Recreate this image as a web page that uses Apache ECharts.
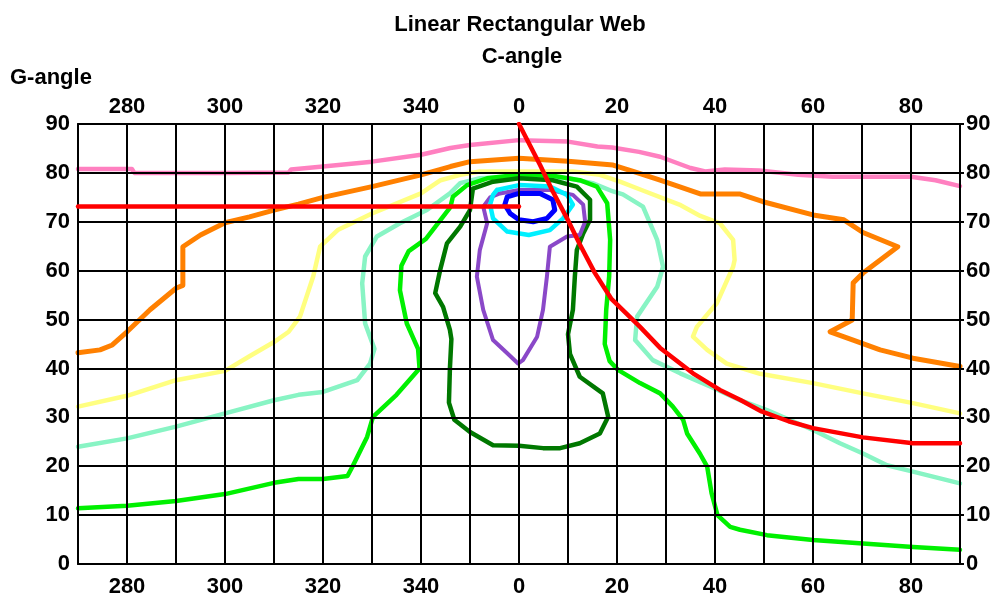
<!DOCTYPE html>
<html>
<head>
<meta charset="utf-8">
<script src="https://cdn.jsdelivr.net/npm/echarts@6/dist/echarts.min.js"></script>
<style>
  html, body { margin: 0; padding: 0; background: #ffffff; }
  #chart { width: 1000px; height: 600px; }
</style>
</head>
<body>
<div id="chart"></div>
<script>
// C-angle runs 270..360..90; stored here as signed degrees (-90 .. 90), 0 = 360.
// Each contour is a list of [C-angle, G-angle] points.
const cAngleTickLabels = [280, 300, 320, 340, 0, 20, 40, 60, 80];
const gAngleTickLabels = [0, 10, 20, 30, 40, 50, 60, 70, 80, 90];

const pinkContour = [
  [-90, 80.8], [-79, 80.8], [-78.5, 80.0], [-60, 80.0], [-47, 80.1], [-46.5, 80.7],
  [-40, 81.3], [-30, 82.3], [-20, 83.7], [-14, 85.1], [-10, 85.7], [0, 86.7],
  [10, 86.4], [16, 85.4], [19, 85.2], [24.5, 84.3], [28.8, 83.3], [35, 81],
  [38, 80.3], [42, 80.7], [49, 80.5], [57, 79.6], [64, 79.2], [80, 79.2],
  [85, 78.5], [90, 77.3]
];

const orangeContour = [
  [-90, 43.2], [-85.5, 43.8], [-83, 44.8], [-80, 47.5], [-75.3, 52], [-70, 56.4],
  [-68.6, 57], [-68.6, 64.9], [-65, 67.3], [-60, 69.8], [-55, 71], [-50, 72.4],
  [-45, 73.6], [-40, 75], [-30, 77.2], [-20, 79.6], [-14, 81.3], [-10, 82.3],
  [0, 83], [10, 82.4], [19.2, 81.6], [23.3, 80.3], [28.8, 78.5], [37, 75.7],
  [45, 75.7], [49.8, 74.1], [60, 71.4], [66.3, 70.4], [70.2, 67.8], [77.3, 64.9],
  [70.2, 59.5], [68.2, 57.5], [68, 49.9], [63.5, 47.5], [68.2, 45.8], [73.7, 43.8],
  [80.4, 42.1], [90, 40.4]
];

const yellowContour = [
  [-90, 32.2], [-80, 34.4], [-70, 37.6], [-60, 39.5], [-55, 42.5], [-50, 45.4],
  [-47, 47.5], [-44.7, 50.6], [-42, 58.8], [-40.6, 64.9], [-37, 68.3], [-30, 71.7],
  [-20, 75.8], [-16, 78.5], [-12, 79.6], [-8, 80.3], [11, 80.3], [16.5, 79.6],
  [20.6, 78.2], [25, 76.5], [33, 73.4], [37, 71.2], [41, 69.7], [43.7, 66.3],
  [44, 62.2], [43.7, 60.8], [40.4, 53.4], [36.3, 48.5], [35.5, 46.5], [38.4, 43.8],
  [42.4, 41], [49.2, 38.9], [60, 37], [70.2, 34.9], [80.4, 32.9], [90, 30.8]
];

const mintContour = [
  [-90, 24], [-80, 25.7], [-70, 28.1], [-60, 30.8], [-50, 33.5], [-45, 34.6],
  [-40, 35.2], [-33, 37.6], [-30.4, 41], [-29.5, 44], [-31.4, 49.2], [-32, 57.4],
  [-31.4, 62.9], [-29, 67], [-24.3, 69.7], [-18.8, 72.4], [-14.1, 75.8], [-12, 77.9],
  [-8, 78.9], [0, 79.2], [10, 78.9], [15, 77.9], [19.2, 76.2], [21.2, 75.6],
  [25.3, 73.1], [28.2, 66.3], [29.4, 60.8], [28.2, 56.7], [24.1, 50.6], [23.7, 45.8],
  [27.3, 41.7], [32.9, 39], [39, 36.3], [45.1, 33.5], [50.6, 31.5], [60, 27.4],
  [65.5, 24.7], [70.2, 22.6], [75.1, 20.2], [80.4, 18.9], [90, 16.5]
];

const greenContour = [
  [-90, 11.4], [-80, 11.9], [-70, 12.9], [-60, 14.3], [-50, 16.6], [-45, 17.4],
  [-40, 17.4], [-35, 18], [-34, 19.9], [-31, 26], [-29.8, 30.1], [-25, 34.6],
  [-20.3, 40], [-20.6, 44], [-22.9, 49.2], [-24.3, 56], [-24, 61], [-22.5, 64],
  [-19, 66.5], [-16, 70.4], [-14, 73], [-13.5, 75.1], [-10.6, 77.5], [-6.5, 78.9],
  [0, 79.6], [6.9, 79.4], [12.4, 78.5], [15.9, 77.2], [18, 73.8], [18.6, 66.3],
  [18.4, 58.8], [17.8, 52], [17.5, 45], [18.5, 41.5], [20.2, 39.7], [24.7, 37],
  [28.8, 34.9], [31.4, 32.2], [33.5, 29.5], [34.3, 26.7], [36.9, 22.6], [38.4, 19.9],
  [39.3, 14.5], [40.5, 10], [43.1, 7.6], [45.1, 7], [50.6, 5.9], [60, 4.9],
  [70.2, 4.2], [80.4, 3.5], [90, 2.9]
];

const darkGreenContour = [
  [-9.4, 76.8], [-5.3, 78.2], [0, 78.9], [6.9, 78.5], [11.8, 77.2], [14.5, 74.5],
  [14.5, 70.4], [13.1, 67.6], [11.8, 64.2], [11.4, 58.8], [11, 52], [10, 47],
  [10.4, 43], [12.4, 38.3], [17.1, 34.9], [18.2, 30.1], [16.5, 26.7], [12.4, 24.7],
  [8.4, 23.7], [4.9, 23.7], [0, 24.2], [-5.3, 24.3], [-10, 27], [-13.2, 29.5],
  [-14.3, 33], [-14.1, 40], [-13.8, 46], [-14.1, 47.9], [-15.5, 52.6], [-17.1, 55.4],
  [-16.1, 60.1], [-14.7, 65.6], [-12, 69], [-10, 72.4], [-9.4, 76.8]
];

const purpleContour = [
  [-3.9, 75.8], [0, 76.5], [6.3, 76.5], [11, 75.5], [13.1, 73.5], [13.5, 70],
  [12.4, 67.3], [9.8, 67], [6.3, 64.9], [5.7, 58.8], [4.9, 52], [3.7, 46.5],
  [0.8, 41.7], [-0.2, 41], [-2.4, 43.1], [-5.3, 45.8], [-7.3, 52], [-8.6, 58.8],
  [-8, 64.2], [-6.5, 69.7], [-7.3, 73.1], [-5.9, 75], [-3.9, 75.8]
];

const cyanContour = [
  [-4.5, 76.5], [0, 77.5], [6.3, 77.2], [9.8, 75.5], [11, 73.5], [9, 70.7],
  [6.3, 68.3], [2, 67.3], [-2.4, 68], [-5.3, 70.7], [-5.9, 73.5], [-5.3, 75.5],
  [-4.5, 76.5]
];

const blueContour = [
  [-2.4, 75.1], [0, 75.8], [4.3, 75.8], [6.9, 74.5], [7.3, 72.4], [5.7, 70.7],
  [2.9, 70], [0, 70.4], [-1.8, 71.7], [-2.9, 73.5], [-2.4, 75.1]
];

// Red web lines: a constant G-angle run and the falling branch from the zenith.
const redFlat = [[-90, 73.1], [0, 73.1]];
const redCurve = [
  [0, 90], [4.3, 81.6], [6.9, 76.2], [9.8, 70.7], [12.4, 65.4], [15.5, 59.5],
  [18.8, 54.3], [24.7, 48.5], [28.8, 44.2], [30.2, 43.1], [35.5, 39], [41, 35.6],
  [45.1, 33.6], [49.5, 31.2], [55, 29.2], [60, 27.8], [70.2, 25.9], [80.4, 24.7],
  [90, 24.7]
];

const FONT = '"Liberation Sans", Arial, sans-serif';
const labelStyle = { color: '#000', fontFamily: FONT, fontWeight: 'bold', fontSize: 22 };

function cAngleLabel(v) {
  const shown = v < 0 ? v + 360 : v;
  if (v <= -90 || v >= 90) return '';
  return cAngleTickLabels.indexOf(shown) >= 0 ? String(shown) : '';
}
function gAngleLabel(v) {
  return gAngleTickLabels.indexOf(v) >= 0 ? String(v) : '';
}

function contour(name, data, color, width, z) {
  return {
    name, type: 'line', data, symbol: 'none', showSymbol: false, silent: true,
    z, lineStyle: { color, width, cap: 'round', join: 'round' }
  };
}

const axisLineStyle = { color: '#000', width: 2 };

const chart = echarts.init(document.getElementById('chart'), null, { renderer: 'canvas' });
chart.setOption({
  animation: false,
  backgroundColor: '#ffffff',
  grid: { left: 78, right: 40, top: 124, bottom: 36 },
  graphic: [
    { type: 'text', x: 520, y: 25, z: 10,
      style: { text: 'Linear Rectangular Web', fill: '#000', font: 'bold 22px ' + FONT, align: 'center', verticalAlign: 'middle' } },
    { type: 'text', x: 522, y: 57, z: 10,
      style: { text: 'C-angle', fill: '#000', font: 'bold 22px ' + FONT, align: 'center', verticalAlign: 'middle' } },
    { type: 'text', x: 10, y: 78, z: 10,
      style: { text: 'G-angle', fill: '#000', font: 'bold 22px ' + FONT, align: 'left', verticalAlign: 'middle' } }
  ],
  xAxis: [
    {
      type: 'value', position: 'bottom', min: -90, max: 90, interval: 10, z: 5,
      axisLine: { show: true, onZero: false, lineStyle: axisLineStyle },
      axisTick: { show: false },
      splitLine: { show: true, lineStyle: { color: '#000', width: 2 } },
      axisLabel: Object.assign({ margin: 12, formatter: cAngleLabel, showMinLabel: true, showMaxLabel: true }, labelStyle)
    },
    {
      type: 'value', position: 'top', min: -90, max: 90, interval: 10, z: 5,
      axisLine: { show: true, onZero: false, lineStyle: axisLineStyle },
      axisTick: { show: false },
      splitLine: { show: false },
      axisLabel: Object.assign({ margin: 6, formatter: cAngleLabel }, labelStyle)
    }
  ],
  yAxis: [
    {
      type: 'value', position: 'left', min: 0, max: 90, interval: 10, z: 5,
      axisLine: { show: true, onZero: false, lineStyle: axisLineStyle },
      axisTick: { show: false },
      splitLine: { show: true, lineStyle: { color: '#000', width: 2 } },
      axisLabel: Object.assign({ margin: 8, formatter: gAngleLabel, showMinLabel: true, showMaxLabel: true }, labelStyle)
    },
    {
      type: 'value', position: 'right', min: 0, max: 90, interval: 10, z: 5,
      axisLine: { show: true, onZero: false, lineStyle: axisLineStyle },
      axisTick: { show: true, length: 4, lineStyle: axisLineStyle },
      splitLine: { show: false },
      axisLabel: Object.assign({ margin: 6, formatter: gAngleLabel, showMinLabel: true, showMaxLabel: true }, labelStyle)
    }
  ],
  series: [
    contour('pink', pinkContour, '#ff80c0', 4.5, 2),
    contour('orange', orangeContour, '#ff8000', 5, 2),
    contour('yellow', yellowContour, '#ffff80', 4.5, 2),
    contour('mint', mintContour, '#88f4c4', 4.5, 2),
    contour('green', greenContour, '#00f000', 4.5, 2),
    contour('darkGreen', darkGreenContour, '#007800', 4.5, 2),
    contour('purple', purpleContour, '#8a48c8', 4, 2),
    contour('cyan', cyanContour, '#00f0ff', 4.5, 2),
    contour('blue', blueContour, '#0000ff', 5, 2),
    contour('redFlat', redFlat, '#ff0000', 4.5, 8),
    contour('redCurve', redCurve, '#ff0000', 4.5, 8)
  ]
});
</script>
</body>
</html>
